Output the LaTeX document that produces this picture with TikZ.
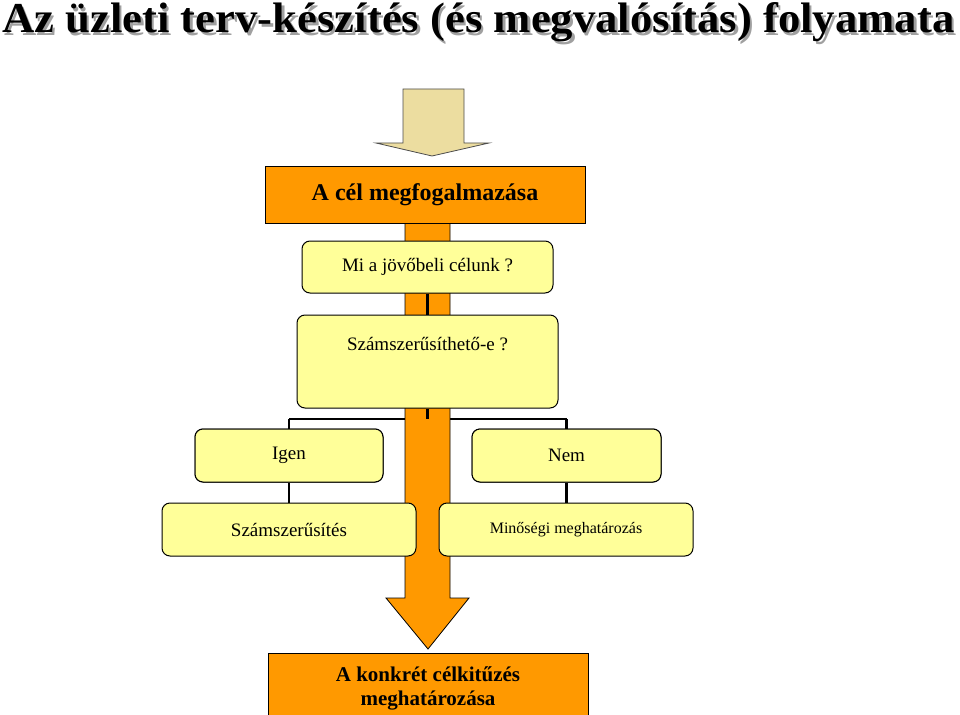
\documentclass[tikz,border=0pt]{standalone}
\usepackage{fontspec}
\setmainfont{Liberation Serif}
\usepackage{graphicx}
\definecolor{orangebox}{RGB}{255,153,0}
\definecolor{yellowbox}{RGB}{255,255,153}
\definecolor{tanarrow}{RGB}{236,221,160}
\definecolor{shadowgray}{RGB}{160,160,160}
\tikzset{
  obox/.style={draw=black, line width=1pt, fill=orangebox, inner sep=0pt},
  ybox/.style={draw=black, line width=1pt, fill=yellowbox, rounded corners=8pt, inner sep=0pt},
  conn/.style={draw=black, line width=2.8pt},
  shaftstyle/.style={draw=black, line width=0.8pt, fill=orangebox},
}
\newcommand{\titlestr}{\resizebox{952pt}{30pt}{\bfseries Az üzleti terv-készítés (és megvalósítás) folyamata}}
\newcommand{\titletext}{\rlap{\hspace{2.5pt}\raisebox{-2.5pt}{\color{shadowgray}\titlestr}}\titlestr}
\begin{document}
\begin{tikzpicture}[x=1pt,y=-1pt]
\useasboundingbox (0,0) rectangle (960,714);
% title with shadow (one node)
\node[anchor=base west, inner sep=0pt] (title) at (2,33) {\titletext};
% top arrow
\draw[draw=black!70, line width=0.8pt, fill=tanarrow] (403,89) -- (464,89) -- (464,143) -- (489,143) -- (432,156) -- (376,143) -- (403,143) -- cycle;
\coordinate (split) at (427.5,419);
% box outlines for positioning
\node[ybox, minimum width=188pt, minimum height=53pt] (igen) at (289,455.5) {};
\node[ybox, minimum width=189pt, minimum height=53pt] (nem) at (566.5,455.5) {};
% connector behind shaft
\draw[conn] (igen.north |- split) -- (nem.north |- split);
% orange shaft with arrow head
\draw[shaftstyle] (405,215) -- (450,215) -- (450,598) -- (469,598) -- (428,649) -- (386,598) -- (405,598) -- cycle;
% boxes on top of shaft
\node[obox, minimum width=320pt, minimum height=57pt, font=\bfseries\fontsize{24}{28}\selectfont] (goalT) at (425,195) {A cél megfogalmazása};
\node[ybox, minimum width=251pt, minimum height=52pt, font=\fontsize{19}{22}\selectfont] (q1T) at (427.5,267) {Mi a jövőbeli célunk ?};
\node[ybox, minimum width=261pt, minimum height=93pt] (q2T) at (427.5,361.5) {};
\node[font=\fontsize{19}{22}\selectfont, inner sep=0pt] (q2text) at (427.5,344) {Számszerűsíthető-e ?};
\node[ybox, minimum width=188pt, minimum height=53pt, font=\fontsize{19}{22}\selectfont] (igenT) at (289,455.5) {Igen};
\node[ybox, minimum width=189pt, minimum height=53pt, font=\fontsize{19}{22}\selectfont] (nemT) at (566.5,455.5) {Nem};
\node[ybox, minimum width=254pt, minimum height=53pt, font=\fontsize{19}{22}\selectfont] (quant) at (289,529.5) {Számszerűsítés};
\node[ybox, minimum width=254pt, minimum height=53pt, font=\fontsize{16}{19}\selectfont] (qual) at (566,529.5) {Minőségi meghatározás};
\node[obox, minimum width=320pt, minimum height=62pt] (final) at (428,684) {};
\node[font=\bfseries\fontsize{21}{24}\selectfont, align=center, inner sep=0pt] (finaltext) at (428,688) {A konkrét célkitűzés\\meghatározása};
% connectors
\draw[conn, line width=2.4pt] (q1T.south) -- (q2T.north);
\draw[conn, line width=2.4pt] (q2T.south) -- (split);
\draw[conn] (igenT.north |- split) -- (igenT.north);
\draw[conn] (nemT.north |- split) -- (nemT.north);
\draw[conn] (igenT.south) -- (quant.north -| igenT.south);
\draw[conn] (nemT.south) -- (qual.north -| nemT.south);
\end{tikzpicture}
\end{document}
